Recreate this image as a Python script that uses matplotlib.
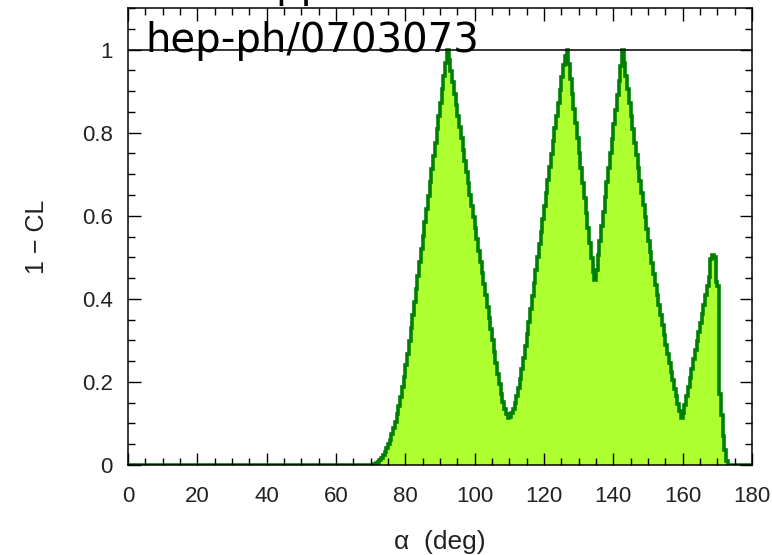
import numpy as np
import matplotlib
matplotlib.use("Agg")
import matplotlib.pyplot as plt
from matplotlib.ticker import MultipleLocator, FormatStrFormatter

plt.rcParams["font.family"] = ["Liberation Sans", "DejaVu Sans"]

# 1 - CL scan in alpha, half-degree bins over 0..180 deg
bin_width = 0.5
scan_start = 70.0          # first bin of the non-zero region
cl_scan = [
    0.0, 0.0, 0.002, 0.004, 0.007, 0.011, 0.016, 0.023, 0.031, 0.04,        # 70-74.5
    0.05, 0.061, 0.074, 0.088, 0.104, 0.122, 0.142, 0.164, 0.188, 0.213,    # 75-79.5
    0.24, 0.268, 0.298, 0.329, 0.36, 0.392, 0.424, 0.456, 0.488, 0.52,      # 80-84.5
    0.552, 0.584, 0.616, 0.648, 0.68, 0.712, 0.744, 0.776, 0.808, 0.84,     # 85-89.5
    0.872, 0.904, 0.936, 0.968, 1.0, 0.975, 0.948, 0.921, 0.894, 0.867,     # 90-94.5
    0.84, 0.813, 0.786, 0.759, 0.732, 0.705, 0.678, 0.651, 0.624, 0.597,    # 95-99.5
    0.57, 0.543, 0.516, 0.489, 0.462, 0.435, 0.408, 0.381, 0.354, 0.327,    # 100-104.5
    0.30, 0.273, 0.246, 0.22, 0.195, 0.172, 0.152, 0.135, 0.122, 0.113,     # 105-109.5
    0.116, 0.124, 0.135, 0.149, 0.166, 0.186, 0.208, 0.232, 0.258, 0.286,   # 110-114.5
    0.315, 0.345, 0.376, 0.407, 0.438, 0.469, 0.50, 0.531, 0.562, 0.593,    # 115-119.5
    0.624, 0.655, 0.686, 0.717, 0.748, 0.779, 0.81, 0.841, 0.872, 0.903,    # 120-124.5
    0.934, 0.964, 0.985, 1.0, 0.965, 0.93, 0.894, 0.858, 0.822, 0.786,      # 125-129.5
    0.75, 0.714, 0.678, 0.642, 0.606, 0.57, 0.534, 0.498, 0.465, 0.445,     # 130-134.5
    0.47, 0.505, 0.54, 0.575, 0.61, 0.645, 0.68, 0.715, 0.75, 0.785,        # 135-139.5
    0.82, 0.855, 0.89, 0.925, 0.96, 1.0, 0.968, 0.936, 0.904, 0.872,       # 140-144.5
    0.84, 0.808, 0.776, 0.745, 0.714, 0.684, 0.654, 0.625, 0.596, 0.568,    # 145-149.5
    0.54, 0.513, 0.486, 0.46, 0.434, 0.409, 0.384, 0.36, 0.336, 0.313,      # 150-154.5
    0.29, 0.268, 0.246, 0.225, 0.204, 0.184, 0.165, 0.147, 0.13, 0.112,     # 155-159.5
    0.125, 0.145, 0.166, 0.188, 0.21, 0.232, 0.254, 0.276, 0.298, 0.32,     # 160-164.5
    0.342, 0.364, 0.386, 0.408, 0.43, 0.452, 0.495, 0.505, 0.50, 0.44,      # 165-169.5
    0.43, 0.17, 0.12, 0.07, 0.035, 0.01,                                    # 170-172.5
]

bin_edges = np.arange(0, 180 + bin_width, bin_width)
cl_values = np.zeros(len(bin_edges) - 1)
i0 = int(scan_start / bin_width)
cl_values[i0:i0 + len(cl_scan)] = cl_scan

fig = plt.figure(figsize=(7.72, 5.55), dpi=100)
ax = fig.add_axes([128 / 772, 90 / 555, 624 / 772, 457 / 555])

ax.stairs(cl_values, bin_edges, fill=True, color="#adff2f", baseline=0)
ax.stairs(cl_values, bin_edges, color="#008000", linewidth=2.6, baseline=None)
ax.axhline(1.0, color="black", linewidth=1.1, zorder=3)

ax.set_xlim(0, 180)
ax.set_ylim(0, 1.1)
ax.xaxis.set_major_locator(MultipleLocator(20))
ax.xaxis.set_minor_locator(MultipleLocator(5))
ax.yaxis.set_major_locator(MultipleLocator(0.2))
ax.yaxis.set_minor_locator(MultipleLocator(0.05))
ax.yaxis.set_major_formatter(FormatStrFormatter("%g"))

for sp in ax.spines.values():
    sp.set_linewidth(1.1)
ax.tick_params(which="both", direction="in", top=True, right=True,
               width=1.0, labelsize=16, labelcolor="#222222")
ax.tick_params(which="major", length=9)
ax.tick_params(which="minor", length=5)
ax.tick_params(axis="x", pad=15)
ax.tick_params(axis="y", pad=11)

ax.set_xlabel("α  (deg)", fontsize=19, color="#222222", labelpad=17)
ax.set_ylabel("1 − CL", fontsize=18, color="#222222", labelpad=24)

fig.text(145 / 772, 1 - 52 / 555, "hep-ph/0703073", fontsize=29,
         family="DejaVu Sans", color="black", va="baseline", ha="left")
fig.text(275 / 772, 1 + 3 / 555, "pp", fontsize=29,
         family="DejaVu Sans", color="black", va="baseline", ha="left")

fig.savefig("out.png", dpi=100)
